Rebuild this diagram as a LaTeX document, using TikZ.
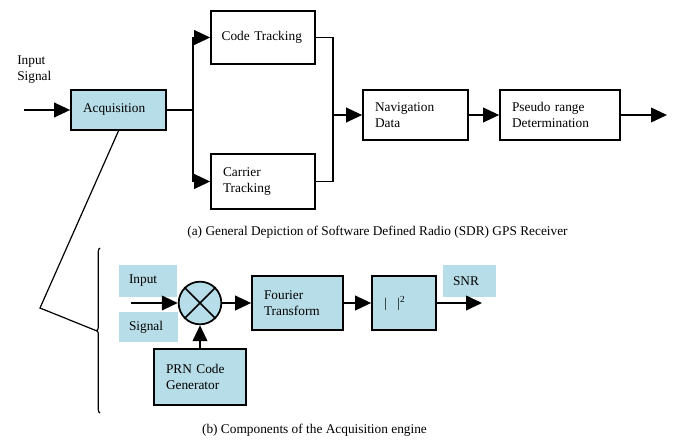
\documentclass[tikz,border=0pt]{standalone}
\usepackage{fontspec}
\setmainfont{Liberation Serif}
\usetikzlibrary{arrows.meta,decorations.pathreplacing}
\definecolor{acqblue}{RGB}{183,221,232}

\begin{document}
\begin{tikzpicture}[x=0.75pt,y=-0.75pt,font=\fontsize{10}{12}\selectfont,
    blk/.style={draw, line width=1.3pt, align=left, inner xsep=9pt, inner ysep=0pt},
    lbl/.style={fill=acqblue, align=left, inner xsep=7.5pt, inner ysep=0pt},
    sig/.style={line width=1.3pt, -{Triangle[length=12pt,width=11pt]}},
    wire/.style={line width=1.3pt},
    thinwire/.style={line width=0.9pt}]
    \useasboundingbox (0,0) rectangle (677,442);
    \node[anchor=west, align=left, inner sep=0pt] (insig) at (17,70) {Input\\Signal};
    \node[blk, fill=acqblue, text width=53.25pt, minimum height=30pt] (acq) at (118.5,110) {Acquisition};
    \node[blk, inner xsep=8pt, text width=62pt, minimum height=39.75pt] (code) at (263,37.5) {Code~Tracking};
    \node[blk, text width=60pt, minimum height=41.25pt] (carrier) at (263,181.5) {Carrier\\Tracking};
    \node[blk, text width=60.75pt, minimum height=37.5pt] (nav) at (415.5,115) {Navigation\\Data};
    \node[blk, text width=72pt, minimum height=37.5pt] (pseudo) at (560,115) {Pseudo range\\Determination};
    \node (capa) at (377.5,232) {(a) General Depiction of Software Defined Radio (SDR) GPS Receiver};
    \coordinate (src) at (24,110);
    \coordinate (split) at (193,110);
    \coordinate (join) at (333,115);
    \coordinate (out) at (667,115);
    \draw[sig] (src) -- (acq);
    \draw[thinwire] (acq) -- (split);
    \draw[sig] (split) |- (code);
    \draw[sig] (split) |- (carrier);
    \draw[wire] (code) -| (join);
    \draw[wire] (carrier) -| (join);
    \draw[sig] (join) -- (nav);
    \draw[sig] (nav) -- (pseudo);
    \draw[sig] (pseudo) -- (out);

    \node[lbl, text width=28.5pt, minimum height=24pt] (inlab) at (148,281) {Input};
    \node[lbl, text width=29.25pt, minimum height=22.5pt] (siglab) at (148.5,327) {Signal};
    \node[circle, draw, fill=acqblue, line width=1.3pt, minimum size=32pt, inner sep=0pt] (mix) at (200,303) {};
    \draw[wire] (mix.north west) -- (mix.south east) (mix.north east) -- (mix.south west);
    \node[blk, fill=acqblue, text width=50.25pt, minimum height=40.5pt] (fourier) at (297.5,303) {Fourier\\Transform};
    \node[blk, fill=acqblue, text width=30pt, minimum height=40.5pt] (abs) at (404,303) {|\hspace{8pt}|\textsuperscript{2}};
    \node[lbl, text width=24.75pt, minimum height=24pt] (snr) at (469.5,281) {SNR};
    \node[blk, fill=acqblue, text width=51pt, minimum height=42pt] (prn) at (200,377) {PRN Code\\Generator};
    \node (capb) at (314.5,430) {(b) Components of the Acquisition engine};
    \coordinate (insrc) at (131,303);
    \coordinate (snrout) at (482,303);
    \draw[sig] (insrc) -- (mix);
    \draw[sig] (mix) -- (fourier);
    \draw[sig] (fourier) -- (abs);
    \draw[sig] (abs) -- (snrout);
    \draw[sig] (prn) -- (mix);

    \coordinate (bend) at (40,308);
    \coordinate (bracetip) at (97,331);
    \coordinate (bracebot) at (100,413);
    \coordinate (bracetop) at (100,248);
    \draw[thinwire] (acq.south) -- (bend) -- (bracetip);
    \draw[thinwire, decorate, decoration={brace, amplitude=2.5pt}] (bracebot) -- (bracetop);
\end{tikzpicture}
\end{document}
